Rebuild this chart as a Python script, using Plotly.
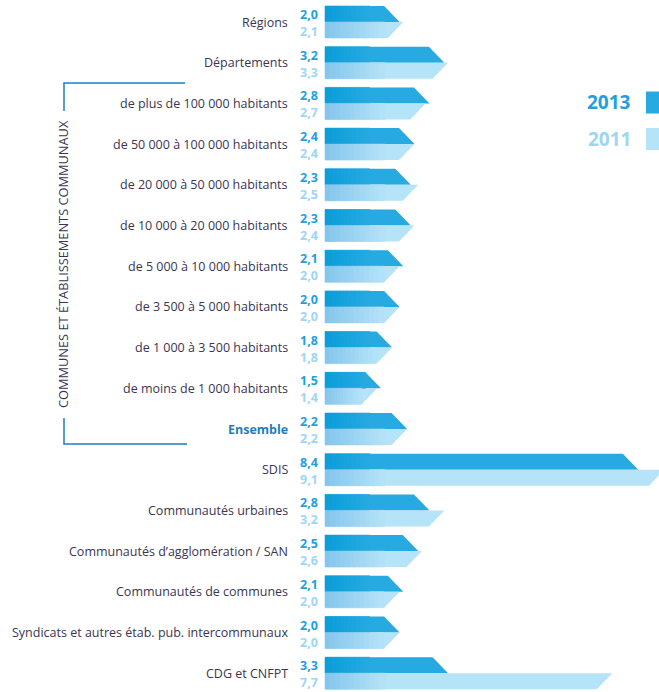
import plotly.graph_objects as go

categories = ["Régions", "Départements", "de plus de 100 000 habitants",
              "de 50 000 à 100 000 habitants", "de 20 000 à 50 000 habitants",
              "de 10 000 à 20 000 habitants", "de 5 000 à 10 000 habitants",
              "de 3 500 à 5 000 habitants", "de 1 000 à 3 500 habitants",
              "de moins de 1 000 habitants", "Ensemble", "SDIS",
              "Communautés urbaines", "Communautés d’agglomération / SAN",
              "Communautés de communes",
              "Syndicats et autres étab. pub. intercommunaux", "CDG et CNFPT"]
values_2013 = [2.0, 3.2, 2.8, 2.4, 2.3, 2.3, 2.1, 2.0, 1.8, 1.5, 2.2, 8.4, 2.8, 2.5, 2.1, 2.0, 3.3]
values_2011 = [2.1, 3.3, 2.7, 2.4, 2.5, 2.4, 2.0, 2.0, 1.8, 1.4, 2.2, 9.1, 3.2, 2.6, 2.0, 2.0, 7.7]
series_names = ["2013", "2011"]
group_title = "COMMUNES ET ÉTABLISSEMENTS COMMUNAUX"

W, Hpx = 659, 692
PX_X = 37.3      # px per unit
PX_Y = 40.7      # px per row
X0PX = 325       # pixel of value 0
H = 16 / PX_Y    # sub-bar height in rows
T = 15.5 / PX_X  # tip length in units

C13, C13D = "#27aae1", "#0b9dd9"
C11, C11D = "#b5e3f8", "#84c5ed"
LBL13, LBL11 = "#1fa0dc", "#9dd6f5"
TXT = "#3b3551"

def hexrgb(h):
    h = h.lstrip("#")
    return [int(h[i:i + 2], 16) for i in (0, 2, 4)]

def mix(a, b, t):
    a, b = hexrgb(a), hexrgb(b)
    return "rgb(%d,%d,%d)" % tuple(round(a[i] + (b[i] - a[i]) * t) for i in range(3))

fig = go.Figure()

def poly_trace(xs, ys, color, lw=0):
    fig.add_trace(go.Scatter(x=xs, y=ys, mode="lines", fill="toself", fillcolor=color,
                             line=dict(width=lw, color=color), hoverinfo="skip",
                             showlegend=False))

# base arrow shapes
for vals, color, top in ((values_2013, C13, True), (values_2011, C11, False)):
    xs, ys = [], []
    for i, v in enumerate(vals):
        if top:
            pts = [(0, i - H), (v - T, i - H), (v, i), (0, i), (0, i - H)]
        else:
            pts = [(0, i), (v, i), (v - T, i + H), (0, i + H), (0, i)]
        xs += [p[0] for p in pts] + [None]
        ys += [p[1] for p in pts] + [None]
    poly_trace(xs, ys, color)

# gradients on the left part of each bar
N = 12
for vals, c_main, c_dark, G, top in ((values_2013, C13, C13D, 1.2, True),
                                     (values_2011, C11, C11D, 1.6, False)):
    for k in range(N):
        xs, ys = [], []
        for i, v in enumerate(vals):
            g = min(G, v - T)
            a, b = g * k / N, g * (k + 1) / N
            y0, y1 = (i - H, i) if top else (i, i + H)
            xs += [a, b, b, a, a, None]
            ys += [y0, y0, y1, y1, y0, None]
        poly_trace(xs, ys, mix(c_dark, c_main, (k + 0.5) / N), lw=0.6)

annotations = []
for i, cat in enumerate(categories):
    is_ens = cat == "Ensemble"
    annotations.append(dict(
        x=0, y=i, xref="x", yref="y", text=("<b>%s</b>" % cat) if is_ens else cat,
        xanchor="right", yanchor="middle", xshift=-35, showarrow=False,
        font=dict(family="Open Sans", size=12.5, color="#1f7dc0" if is_ens else TXT)))
    for val, anchor, ys_, col in ((values_2013[i], "bottom", -2, LBL13),
                                  (values_2011[i], "top", 0, LBL11)):
        annotations.append(dict(
            x=0, y=i, xref="x", yref="y",
            text="<b>%s</b>" % ("%.1f" % val).replace(".", ","),
            xanchor="right", yanchor=anchor, xshift=-6, yshift=ys_, showarrow=False,
            borderpad=0, font=dict(family="Open Sans", size=12.5, color=col)))

def px(x):
    return x / W

def py(y):
    return 1 - y / Hpx

# legend
shapes = []
for name, col, tcol, yc in ((series_names[0], C13, LBL13, 102.5), (series_names[1], C11, LBL11, 139)):
    shapes.append(dict(type="rect", xref="paper", yref="paper", x0=px(646), x1=px(662),
                       y0=py(yc - 11), y1=py(yc + 11), fillcolor=col, line=dict(width=0)))
    annotations.append(dict(x=px(633), y=py(yc), xref="paper", yref="paper",
                            text="<b>%s</b>" % name, xanchor="right", yanchor="middle",
                            showarrow=False, font=dict(family="Open Sans", size=19, color=tcol)))

# bracket
BR = "#1f7dc0"
for (xa, ya, xb, yb) in ((64, 83, 64, 111), (64, 418, 64, 444), (63.3, 83, 185, 83), (63.3, 444, 187, 444)):
    shapes.append(dict(type="line", xref="paper", yref="paper", x0=px(xa), x1=px(xb),
                       y0=py(ya), y1=py(yb), line=dict(color=BR, width=1.5)))
annotations.append(dict(x=px(62.5), y=py(264.5), xref="paper", yref="paper", text=group_title,
                        textangle=-90, xanchor="center", yanchor="middle", showarrow=False,
                        font=dict(family="Open Sans", size=12.8, color=TXT)))

fig.update_layout(
    width=W, height=Hpx, margin=dict(l=0, r=0, t=0, b=0),
    paper_bgcolor="white", plot_bgcolor="white", showlegend=False,
    xaxis=dict(range=[-X0PX / PX_X, (W - X0PX) / PX_X], visible=False, fixedrange=True),
    yaxis=dict(range=[(Hpx - 22) / PX_Y, -22 / PX_Y], visible=False, fixedrange=True),
    annotations=annotations, shapes=shapes,
)

fig.write_html("out.html", config={"displayModeBar": False},
               post_script="document.body.style.margin='0';document.body.style.overflow='hidden';")
